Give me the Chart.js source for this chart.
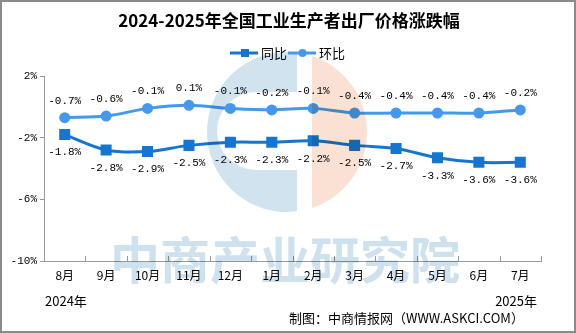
<!DOCTYPE html>
<html>
<head>
<meta charset="utf-8">
<script src="https://cdn.jsdelivr.net/npm/chart.js@4.4.0/dist/chart.umd.min.js"></script>
<style>
  html, body { margin: 0; padding: 0; background: #fff; }
  #wrap { width: 576px; height: 333px; }
</style>
</head>
<body>
<div id="wrap"><canvas id="myChart" width="576" height="333"></canvas></div>
<script>
// 数据
var months = ['8月', '9月', '10月', '11月', '12月', '1月', '2月', '3月', '4月', '5月', '6月', '7月'];
var yoy = [-1.8, -2.8, -2.9, -2.5, -2.3, -2.3, -2.2, -2.5, -2.7, -3.3, -3.6, -3.6];   // 同比
var mom = [-0.7, -0.6, -0.1, 0.1, -0.1, -0.2, -0.1, -0.4, -0.4, -0.4, -0.4, -0.2];    // 环比
var yTicks = [2, -2, -6, -10];

var yoyColor = '#1576d2';
var momColor = '#4499ee';
var monoFont = '"Liberation Mono", "DejaVu Sans Mono", monospace';
var cjkFont = '"Noto Sans CJK SC", "Noto Sans", sans-serif';

// 水印（正片叠底）
function drawWatermark(ctx) {
    var cx = 287, cy = 132, r = 80;
    ctx.save();
    ctx.globalCompositeOperation = 'multiply';
    // 左边蓝色 C 形
    ctx.save();
    ctx.beginPath();
    ctx.rect(0, 0, 297, 333);
    ctx.clip();
    ctx.beginPath();
    ctx.arc(cx, cy, r, 0, Math.PI * 2);
    ctx.moveTo(310, 92);
    ctx.lineTo(256, 92);
    ctx.arc(256, 131, 39, -Math.PI / 2, -Math.PI * 1.5, true);
    ctx.lineTo(310, 170);
    ctx.closePath();
    ctx.fillStyle = 'rgb(208,227,238)';
    ctx.fill('evenodd');
    ctx.restore();
    // 右边橙色半圆
    ctx.save();
    ctx.beginPath();
    ctx.rect(312, 0, 300, 333);
    ctx.clip();
    ctx.beginPath();
    ctx.arc(cx, cy, r, 0, Math.PI * 2);
    ctx.fillStyle = 'rgb(250,225,212)';
    ctx.fill();
    ctx.restore();
    // 水印文字
    ctx.fillStyle = 'rgb(206,225,238)';
    ctx.font = 'bold 50px ' + cjkFont;
    ctx.textAlign = 'center';
    ctx.textBaseline = 'middle';
    ctx.fillText('中商产业研究院', 285, 260);
    ctx.restore();
}

var decoPlugin = {
    id: 'deco',
    beforeDatasetsDraw: function(chart) {
        // x 轴刻度（向上）
        var ctx = chart.ctx;
        var area = chart.chartArea;
        ctx.save();
        ctx.strokeStyle = '#999';
        ctx.lineWidth = 1;
        var step = (area.right - area.left) / months.length;
        for (var i = 1; i <= months.length; i++) {
            var x = Math.round(area.left + step * i) + 0.5;
            ctx.beginPath();
            ctx.moveTo(x, area.bottom);
            ctx.lineTo(x, area.bottom - 5);
            ctx.stroke();
        }
        ctx.restore();
    },
    afterDatasetsDraw: function(chart) {
        var ctx = chart.ctx;
        drawWatermark(ctx);

        ctx.save();
        // 数据标签
        ctx.font = '11px ' + monoFont;
        ctx.fillStyle = '#000';
        ctx.textAlign = 'center';
        ctx.textBaseline = 'middle';
        chart.getDatasetMeta(0).data.forEach(function(pt, i) {
            ctx.fillText(yoy[i].toFixed(1) + '%', pt.x, pt.y + 18);
        });
        chart.getDatasetMeta(1).data.forEach(function(pt, i) {
            ctx.fillText(mom[i].toFixed(1) + '%', pt.x, pt.y - 17);
        });

        // 标题
        ctx.font = 'bold 17px ' + cjkFont;
        ctx.fillText('2024-2025年全国工业生产者出厂价格涨跌幅', 289, 21);

        // 图例
        ctx.lineWidth = 3;
        ctx.strokeStyle = yoyColor;
        ctx.beginPath(); ctx.moveTo(230, 53); ctx.lineTo(258, 53); ctx.stroke();
        ctx.fillStyle = yoyColor;
        ctx.fillRect(241, 49, 8, 8);
        ctx.strokeStyle = momColor;
        ctx.beginPath(); ctx.moveTo(288, 53); ctx.lineTo(316, 53); ctx.stroke();
        ctx.fillStyle = momColor;
        ctx.beginPath(); ctx.arc(302.5, 53, 4, 0, Math.PI * 2); ctx.fill();
        ctx.fillStyle = '#000';
        ctx.font = '13px ' + cjkFont;
        ctx.textAlign = 'left';
        ctx.fillText('同比', 261, 53);
        ctx.fillText('环比', 319, 53);

        // 年份
        ctx.font = '13px ' + cjkFont;
        ctx.fillText('2024年', 45, 301);
        ctx.textAlign = 'right';
        ctx.fillText('2025年', 537, 301);
        // 来源
        ctx.textAlign = 'left';
        ctx.fillText('制图：中商情报网（WWW.ASKCI.COM）', 289, 318);

        // 外框
        ctx.strokeStyle = '#8a8a8a';
        ctx.lineWidth = 2;
        ctx.strokeRect(1, 1, 574, 331);
        ctx.restore();
    }
};

var ctx = document.getElementById('myChart').getContext('2d');
var myChart = new Chart(ctx, {
    type: 'line',
    data: {
        labels: months,
        datasets: [{
            label: '同比',
            data: yoy,
            borderColor: yoyColor,
            backgroundColor: yoyColor,
            borderWidth: 3,
            tension: 0.35,
            pointStyle: 'rect',
            pointRadius: 5.7,
            pointHoverRadius: 5.7
        }, {
            label: '环比',
            data: mom,
            borderColor: momColor,
            backgroundColor: momColor,
            borderWidth: 3,
            tension: 0.35,
            pointStyle: 'circle',
            pointRadius: 4,
            pointHoverRadius: 4
        }]
    },
    options: {
        responsive: false,
        animation: false,
        events: [],
        layout: { padding: { top: 76, right: 35, bottom: 0, left: 0 } },
        plugins: {
            legend: { display: false },
            title: { display: false },
            tooltip: { enabled: false }
        },
        scales: {
            x: {
                offset: true,
                grid: { display: false, drawTicks: false },
                border: { color: '#999', width: 1 },
                ticks: {
                    color: '#000',
                    padding: 7,
                    maxRotation: 0,
                    font: { family: cjkFont, size: 12 }
                },
                afterFit: function(scale) { scale.height = 72; }
            },
            y: {
                min: -10,
                max: 2,
                afterBuildTicks: function(scale) {
                    scale.ticks = yTicks.map(function(v) { return { value: v }; });
                },
                grid: { drawOnChartArea: false, drawTicks: true, tickLength: 4, color: '#999' },
                border: { color: '#999', width: 1 },
                ticks: {
                    color: '#000',
                    padding: 3,
                    font: { family: monoFont, size: 11 },
                    callback: function(v) { return v + '%'; }
                },
                afterFit: function(scale) { scale.width = 44; }
            }
        }
    },
    plugins: [decoPlugin]
});
</script>
</body>
</html>
